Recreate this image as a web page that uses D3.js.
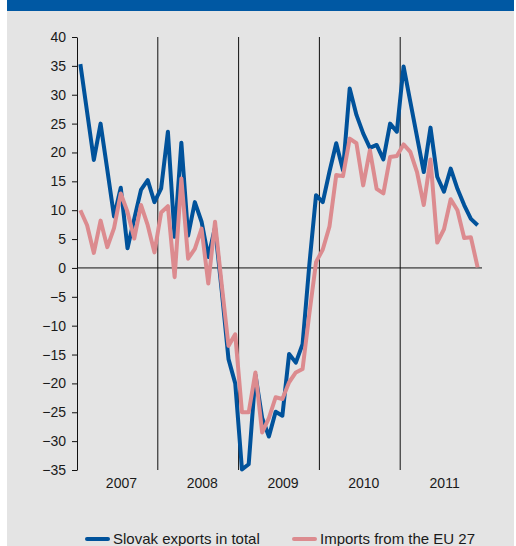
<!DOCTYPE html>
<html>
<head>
<meta charset="utf-8">
<script src="https://cdn.jsdelivr.net/npm/d3@7"></script>
<style>
  body { margin: 0; background: #fff; }
  text { font-family: "Liberation Sans", Arial, sans-serif; fill: #1a1a1a; }
</style>
</head>
<body>
<div id="chart"></div>
<script>
// chart data (monthly, Jan 2007 - Dec 2011)
var years = ["2007", "2008", "2009", "2010", "2011"];
var exportsTotal = [
  35.3, 27, 18.7, 25.0, 17, 8.9, 13.9, 3.4, 8.5, 13.5, 15.2, 11.4,
  13.8, 23.6, 5.4, 21.7, 5.6, 11.4, 8.0, 1.9, 7, -4, -15.8, -20,
  -34.9, -34, -18.5, -26, -29.2, -24.9, -25.6, -14.9, -16.4, -13.2, 0.5, 12.6,
  11.4, 16.7, 21.6, 16.9, 31.1, 26.5, 23.3, 20.8, 21.3, 18.8, 25.0, 23.6,
  34.9, 28.8, 22.7, 16.6, 24.3, 15.8, 13.2, 17.2, 13.7, 10.9, 8.5, 7.4
];
var importsEU = [
  10.0, 7.4, 2.6, 8.2, 3.6, 6.9, 12.9, 9.7, 5.1, 10.9, 7.4, 2.7,
  9.6, 10.7, -1.6, 15.5, 1.6, 3.3, 6.8, -2.7, 8.0, -3, -13.5, -11.5,
  -25, -25, -18.1, -28.5, -26, -22.4, -22.7, -19.8, -18.1, -17.5, -8, 1.0,
  3.2, 7.2, 16.1, 15.9, 22.4, 21.6, 14.3, 20.4, 13.7, 12.9, 19.2, 19.4,
  21.4, 20.1, 16.6, 10.9, 18.8, 4.4, 6.7, 11.9, 10.0, 5.2, 5.3, 0.1
];
var yTicks = [-35, -30, -25, -20, -15, -10, -5, 0, 5, 10, 15, 20, 25, 30, 35, 40];
var seriesNames = ["Slovak exports in total", "Imports from the EU 27"];

var width = 516;
var height = 546;
var blue = "#00529b";
var pink = "#dc8b8f";

var svg = d3.select("#chart")
    .append("svg")
    .attr("width", width)
    .attr("height", height);

// background panel + top band
svg.append("rect").attr("x", 7).attr("y", 0).attr("width", 507).attr("height", height).attr("fill", "#e4e4e4");
svg.append("rect").attr("x", 7).attr("y", 0).attr("width", 507).attr("height", 11).attr("fill", "#0058a3");

var nMonths = years.length * 12;
var xScale = d3.scaleLinear().domain([0, nMonths]).range([77, 481]);
var yScale = d3.scaleLinear().domain([-35, 40]).range([470, 37]);

// year dividers
svg.append("g").selectAll("line")
    .data(d3.range(1, years.length))
    .enter().append("line")
    .attr("x1", function(d){ return xScale(d * 12); })
    .attr("x2", function(d){ return xScale(d * 12); })
    .attr("y1", yScale(40))
    .attr("y2", yScale(-35))
    .attr("stroke", "#111")
    .attr("stroke-width", 1);

// zero line
svg.append("line")
    .attr("x1", 77).attr("x2", 482)
    .attr("y1", yScale(0)).attr("y2", yScale(0))
    .attr("stroke", "#111").attr("stroke-width", 1);

// y axis
var yAxis = d3.axisLeft(yScale).tickValues(yTicks).tickSize(5).tickSizeOuter(0).tickPadding(6);
var yG = svg.append("g")
    .attr("transform", "translate(77,0)")
    .call(yAxis);
yG.selectAll("path, line").attr("stroke", "#111");
yG.selectAll("text")
    .style("font-size", "14px")
    .style("font-family", "'Liberation Sans', Arial, sans-serif")
    .attr("fill", "#1a1a1a");

// year labels
svg.append("g").selectAll("text")
    .data(years)
    .enter().append("text")
    .attr("x", function(d, i){ return xScale(i * 12 + 6.6); })
    .attr("y", 488)
    .attr("text-anchor", "middle")
    .style("font-size", "14px")
    .text(function(d){ return d; });

// lines
var line = d3.line()
    .x(function(d, i){ return xScale(i + 0.5); })
    .y(function(d){ return yScale(d); });

svg.append("path")
    .datum(exportsTotal)
    .attr("d", line)
    .attr("fill", "none")
    .attr("stroke", blue)
    .attr("stroke-width", 4)
    .attr("stroke-linejoin", "round");

svg.append("path")
    .datum(importsEU)
    .attr("d", line)
    .attr("fill", "none")
    .attr("stroke", pink)
    .attr("stroke-width", 4)
    .attr("stroke-linejoin", "round");

// legend
var legend = svg.append("g").attr("transform", "translate(0,539)");
var legendX = [87, 294];
var legendColors = [blue, pink];
seriesNames.forEach(function(name, i){
    legend.append("line")
        .attr("x1", legendX[i]).attr("x2", legendX[i] + 21)
        .attr("y1", 0).attr("y2", 0)
        .attr("stroke", legendColors[i])
        .attr("stroke-width", 4)
        .attr("stroke-linecap", "round");
    legend.append("text")
        .attr("x", legendX[i] + 26)
        .attr("y", 5)
        .style("font-size", "15px")
        .text(name);
});
</script>
</body>
</html>
